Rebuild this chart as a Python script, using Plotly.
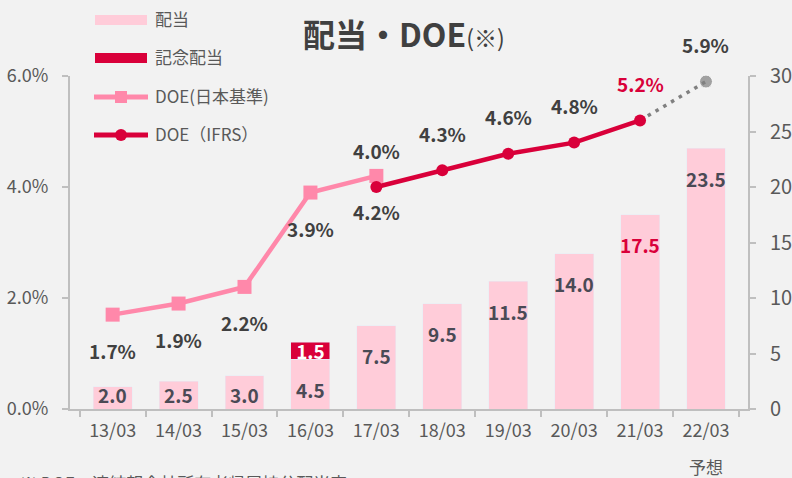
import plotly.graph_objects as go

# Fiscal periods (March year-end)
periods = ["13/03", "14/03", "15/03", "16/03", "17/03", "18/03", "19/03", "20/03", "21/03", "22/03"]
forecast_note = "予想"

# Dividends per share (yen)
dividend = [2.0, 2.5, 3.0, 4.5, 7.5, 9.5, 11.5, 14.0, 17.5, 23.5]
commemorative = [None, None, None, 1.5, None, None, None, None, None, None]

# DOE (%), Japanese GAAP and IFRS
doe_jgaap_periods = ["13/03", "14/03", "15/03", "16/03", "17/03"]
doe_jgaap = [1.7, 1.9, 2.2, 3.9, 4.2]
doe_ifrs_periods = ["17/03", "18/03", "19/03", "20/03", "21/03"]
doe_ifrs = [4.0, 4.3, 4.6, 4.8, 5.2]
doe_forecast_periods = ["21/03", "22/03"]
doe_forecast = [5.2, 5.9]

legend_names = ["配当", "記念配当", "DOE(日本基準)", "DOE（IFRS）"]

PINK_BAR = "#ffccd9"
CRIMSON = "#d9003a"
PINK_LINE = "#ff88aa"
GRAY = "#808080"
TEXT = "#404040"
LABEL = "#4a4a55"
TICK = "#595959"
AXIS = "#bfbfbf"
BG = "#f2f2f2"
FONT = "Noto Sans CJK JP"

W, H = 792, 478
ML, MR, MT, MB = 70, 44, 76, 69
PW, PH = W - ML - MR, H - MT - MB


def px_x(px):
    """Page pixel column -> paper x."""
    return (px - ML) / PW


def px_y(py):
    """Page pixel row -> paper y."""
    return (H - MB - py) / PH


fig = go.Figure()

# Dividend bars (right axis)
fig.add_trace(go.Bar(
    x=periods, y=dividend, name=legend_names[0], marker_color=PINK_BAR,
    yaxis="y", width=0.59, showlegend=False,
))
fig.add_trace(go.Bar(
    x=periods, y=commemorative, name=legend_names[1], marker_color=CRIMSON,
    yaxis="y", width=0.59, showlegend=False,
    text=[f"<b>{v:.1f}</b>" if v is not None else "" for v in commemorative],
    textposition="inside", insidetextanchor="middle", textangle=0,
    constraintext="none",
    textfont=dict(family=FONT, size=19, color="white"),
))

# DOE lines (left axis)
fig.add_trace(go.Scatter(
    x=doe_jgaap_periods, y=doe_jgaap, name=legend_names[2],
    mode="lines+markers", yaxis="y2", showlegend=False,
    line=dict(color=PINK_LINE, width=4.5),
    marker=dict(symbol="square", size=14, color=PINK_LINE),
))
fig.add_trace(go.Scatter(
    x=doe_forecast_periods, y=doe_forecast, mode="lines+markers", yaxis="y2",
    line=dict(color=GRAY, width=3.5, dash="3.5px,5.5px"),
    marker=dict(size=[0, 13], color=GRAY),
    showlegend=False,
))
fig.add_trace(go.Scatter(
    x=doe_ifrs_periods, y=doe_ifrs, name=legend_names[3],
    mode="lines+markers", yaxis="y2", showlegend=False,
    line=dict(color=CRIMSON, width=4.5),
    marker=dict(symbol="circle", size=12, color=CRIMSON),
))

annotations = []

# Dividend value labels inside the bars
for p, v in zip(periods, dividend):
    annotations.append(dict(
        x=p, y=max(v - 2.7, 1.3), xref="x", yref="y", yanchor="middle", showarrow=False,
        text=f"<b>{v:.1f}</b>",
        font=dict(family=FONT, size=19, color=CRIMSON if p == "21/03" else LABEL),
    ))

# DOE labels: Japanese GAAP below the points, IFRS above
for p, v in zip(doe_jgaap_periods, doe_jgaap):
    annotations.append(dict(
        x=p, y=v, xref="x", yref="y2", yanchor="middle", yshift=-36, showarrow=False,
        text=f"<b>{v:.1f}%</b>", font=dict(family=FONT, size=19, color=TEXT),
    ))
for p, v in zip(doe_ifrs_periods, doe_ifrs):
    annotations.append(dict(
        x=p, y=v, xref="x", yref="y2", yanchor="middle", yshift=37, showarrow=False,
        text=f"<b>{v:.1f}%</b>",
        font=dict(family=FONT, size=19, color=CRIMSON if p == "21/03" else TEXT),
    ))
annotations.append(dict(
    x=doe_forecast_periods[-1], y=doe_forecast[-1], xref="x", yref="y2",
    yanchor="middle", yshift=37, showarrow=False,
    text=f"<b>{doe_forecast[-1]:.1f}%</b>",
    font=dict(family=FONT, size=19, color=TEXT),
))

# Forecast note under the last period
annotations.append(dict(
    x=periods[-1], y=px_y(466), xref="x", yref="paper", yanchor="middle",
    showarrow=False, text=forecast_note, font=dict(family=FONT, size=17, color=TICK),
))

# Title
annotations.append(dict(
    x=px_x(404), y=px_y(33), xref="paper", yref="paper",
    xanchor="center", yanchor="middle", showarrow=False,
    text="<b>配当・DOE</b><span style='font-size:23px'>(※)</span>",
    font=dict(family=FONT, size=32, color=TEXT),
))

# Footnote
annotations.append(dict(
    x=px_x(18), y=px_y(482), xref="paper", yref="paper", xanchor="left", yanchor="middle",
    showarrow=False, text="※ DOE：連結親会社所有者帰属持分配当率",
    font=dict(family=FONT, size=17, color=TICK),
))

# Legend, drawn as keys with labels in the upper-left corner
shapes = []
key_x0, key_x1, text_x = 95, 147, 153
rows = [20, 58, 97, 135]
shapes.append(dict(type="rect", xref="paper", yref="paper", line_width=0,
                   fillcolor=PINK_BAR, x0=px_x(key_x0), x1=px_x(key_x1),
                   y0=px_y(rows[0] - 5), y1=px_y(rows[0] + 5)))
shapes.append(dict(type="rect", xref="paper", yref="paper", line_width=0,
                   fillcolor=CRIMSON, x0=px_x(key_x0), x1=px_x(key_x1),
                   y0=px_y(rows[1] - 5), y1=px_y(rows[1] + 5)))
for row, color in ((rows[2], PINK_LINE), (rows[3], CRIMSON)):
    shapes.append(dict(type="line", xref="paper", yref="paper",
                       line=dict(color=color, width=5),
                       x0=px_x(key_x0 - 1), x1=px_x(key_x1 + 1),
                       y0=px_y(row), y1=px_y(row)))
mid = (key_x0 + key_x1) / 2
shapes.append(dict(type="rect", xref="paper", yref="paper", line_width=0,
                   fillcolor=PINK_LINE, x0=px_x(mid - 6), x1=px_x(mid + 6),
                   y0=px_y(rows[2] - 6), y1=px_y(rows[2] + 6)))
shapes.append(dict(type="circle", xref="paper", yref="paper", line_width=0,
                   fillcolor=CRIMSON, x0=px_x(mid - 6), x1=px_x(mid + 6),
                   y0=px_y(rows[3] - 6), y1=px_y(rows[3] + 6)))
for row, name in zip(rows, legend_names):
    annotations.append(dict(
        x=px_x(text_x), y=px_y(row - 1.5), xref="paper", yref="paper",
        xanchor="left", yanchor="middle", showarrow=False, text=name,
        font=dict(family=FONT, size=17, color=TICK),
    ))

fig.update_layout(
    width=W, height=H,
    margin=dict(l=ML, r=MR, t=MT, b=MB),
    paper_bgcolor=BG, plot_bgcolor=BG,
    barmode="stack",
    showlegend=False,
    font=dict(family=FONT, color=TICK),
    annotations=annotations,
    shapes=shapes,
    xaxis=dict(
        type="category", categoryorder="array", categoryarray=periods,
        showline=True, linecolor=AXIS, linewidth=2, automargin=False,
        ticks="outside", tickson="boundaries", ticklen=6, tickcolor=AXIS, tickwidth=2,
        ticklabelstandoff=4,
        tickfont=dict(family=FONT, size=18, color=TICK),
        showgrid=False, zeroline=False,
    ),
    yaxis=dict(
        side="right", range=[0, 30], dtick=5, automargin=False,
        showline=True, linecolor=AXIS, linewidth=2,
        ticks="outside", ticklen=6, tickcolor=AXIS, tickwidth=2,
        ticklabelstandoff=10,
        tickfont=dict(family=FONT, size=20, color=TICK),
        showgrid=False, zeroline=False,
    ),
    yaxis2=dict(
        side="left", overlaying="y", range=[0, 6], dtick=2, automargin=False,
        tickformat=".1f", ticksuffix="%",
        showline=True, linecolor=AXIS, linewidth=2,
        ticks="outside", ticklen=6, tickcolor=AXIS, tickwidth=2,
        ticklabelstandoff=10,
        tickfont=dict(family=FONT, size=18, color=TICK),
        showgrid=False, zeroline=False,
    ),
)

fig.update_traces(cliponaxis=False, selector=dict(type="scatter"))

fig.write_html("out.html")
